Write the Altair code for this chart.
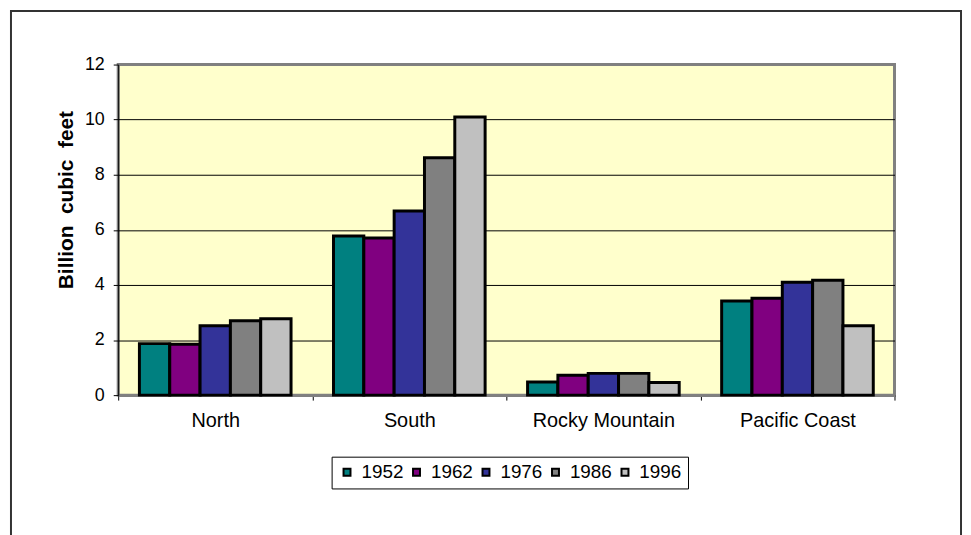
import altair as alt
import pandas as pd

regions = ["North", "South", "Rocky Mountain", "Pacific Coast"]
years = ["1952", "1962", "1976", "1986", "1996"]
north = [1.87, 1.85, 2.52, 2.70, 2.77]
south = [5.78, 5.70, 6.68, 8.62, 10.10]
rocky = [0.48, 0.72, 0.79, 0.79, 0.46]
pacific = [3.42, 3.52, 4.10, 4.17, 2.52]
colors = ["#008080", "#800080", "#333399", "#808080", "#C0C0C0"]
y_ticks = [0, 2, 4, 6, 8, 10, 12]

rows = []
for reg, vals in zip(regions, [north, south, rocky, pacific]):
    for yr, v in zip(years, vals):
        rows.append({"region": reg, "year": yr, "value": v})
df = pd.DataFrame(rows)

FONT = "Liberation Sans"

bars = alt.Chart(df).mark_bar(stroke="black", strokeWidth=3).encode(
    x=alt.X(
        "region:N",
        sort=regions,
        scale=alt.Scale(paddingInner=0, paddingOuter=0),
        axis=alt.Axis(
            title=None, labelAngle=0, tickBand="extent", labelFontSize=20,
            labelPadding=11, tickSize=5, tickColor="black",
            domainColor="#808080", domainWidth=3, grid=False,
        ),
    ),
    xOffset=alt.XOffset(
        "year:N", sort=years, scale=alt.Scale(paddingInner=0, paddingOuter=0.7)
    ),
    y=alt.Y(
        "value:Q",
        scale=alt.Scale(domain=[0, 12], nice=False),
        axis=alt.Axis(
            values=y_ticks, title="Billion\u00a0 cubic\u00a0 feet", titleFontSize=21,
            titleFontWeight="bold", titlePadding=8, titleY=136,
            labelFontSize=18, labelPadding=9,
            tickSize=5, tickColor="black", domainColor="black", domainWidth=1,
            grid=True, gridColor="black", gridWidth=1,
            gridOpacity=alt.condition("datum.value >= 12 || datum.value <= 0", alt.value(0), alt.value(1)),
        ),
    ),
    color=alt.Color(
        "year:N",
        sort=years,
        scale=alt.Scale(domain=years, range=colors),
        legend=alt.Legend(
            title=None, orient="none", legendX=215, legendY=395, direction="horizontal",
            columns=5, fillColor="white", strokeColor="black", padding=6,
            symbolType="square", symbolSize=49, symbolStrokeColor="black",
            symbolStrokeWidth=2, labelFontSize=19, columnPadding=3, labelOffset=5,
        ),
    ),
)

frame = alt.Chart(alt.Data(values=[{}])).mark_rect(
    fillOpacity=0, stroke="#333333", strokeWidth=2
).encode(
    x=alt.value(-108), x2=alt.value(849), y=alt.value(-54), y2=alt.value(490)
)

chart = (
    alt.layer(frame, bars)
    .properties(
        width=782,
        height=333,
        padding={"left": 111, "top": 55, "right": 69, "bottom": 150},
        autosize=alt.AutoSizeParams(type="none"),
        background="white",
    )
    .configure_view(fill="#FFFFCC", stroke="#808080", strokeWidth=3)
    .configure_axis(labelFont=FONT, titleFont=FONT, labelColor="black", titleColor="black")
    .configure_legend(labelFont=FONT, labelColor="black")
)

chart.save("out.html", embed_options={"renderer": "svg", "actions": False})
